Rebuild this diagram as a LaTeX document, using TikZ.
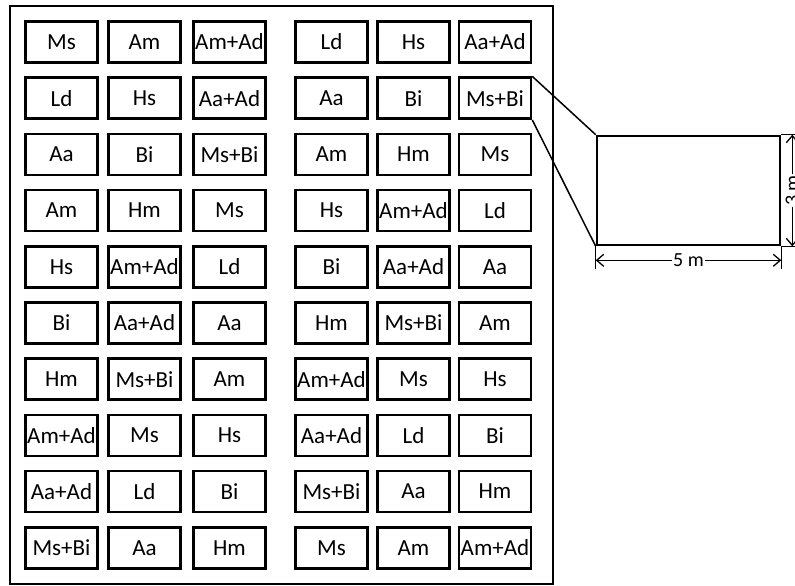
\documentclass[tikz,border=0pt]{standalone}
\usepackage{fontspec}
\setmainfont{Carlito}
\usetikzlibrary{arrows.meta}
\tikzset{
  cell/.style={draw, line width=2.6pt, minimum width=72pt, minimum height=41pt,
    inner sep=0pt, font=\fontsize{23}{26}\selectfont},
  dimline/.style={line width=1.3pt, {Straight Barb[length=7pt,width=12pt]}-{Straight Barb[length=7pt,width=12pt]}},
}
\begin{document}
\begin{tikzpicture}[x=1pt,y=-1pt]
    \useasboundingbox (0,0) rectangle (795,586);
    % field
    \draw[line width=2.2pt] (10,6) rectangle (553,584);
    % plots, row by row
    \foreach \row [count=\r] in {
        {Ms,Am,Am+Ad,Ld,Hs,Aa+Ad},
        {Ld,Hs,Aa+Ad,Aa,Bi,Ms+Bi},
        {Aa,Bi,Ms+Bi,Am,Hm,Ms},
        {Am,Hm,Ms,Hs,Am+Ad,Ld},
        {Hs,Am+Ad,Ld,Bi,Aa+Ad,Aa},
        {Bi,Aa+Ad,Aa,Hm,Ms+Bi,Am},
        {Hm,Ms+Bi,Am,Am+Ad,Ms,Hs},
        {Am+Ad,Ms,Hs,Aa+Ad,Ld,Bi},
        {Aa+Ad,Ld,Bi,Ms+Bi,Aa,Hm},
        {Ms+Bi,Aa,Hm,Ms,Am,Am+Ad}}
      \foreach \lab [count=\c] in \row {
        \pgfmathsetmacro{\xx}{{61.5,144.5,229.5,331.5,413.5,495}[\c-1]}
        \node[cell] (p-\r-\c) at (\xx,{42+(\r-1)*56.2}) {\lab};
      };
    % one plot enlarged
    \node[draw, line width=2.6pt, minimum width=183pt, minimum height=109pt] (detail) at (688.5,190.5) {};
    \draw[line width=1.5pt] (p-2-6.north east) -- (detail.north west);
    \draw[line width=1.5pt] (p-2-6.south east) -- (detail.south west);
    % dimensions
    \coordinate (w1) at ([yshift=-23pt]detail.south west);
    \coordinate (w2) at ([yshift=-23pt]detail.south east);
    \coordinate (h1) at ([xshift=20pt]detail.north east);
    \coordinate (h2) at ([xshift=20pt]detail.south east);
    \draw[line width=1pt] (detail.south west) -- (w1);
    \draw[line width=1pt] (detail.south east) -- (w2);
    \draw[line width=1pt] (detail.north east) -- (h1);
    \draw[line width=1pt] (detail.south east) -- (h2);
    \draw[dimline] ([yshift=-14pt]detail.south west) -- ([yshift=-14pt]detail.south east)
        node[midway, fill=white, inner sep=1pt, font=\fontsize{20}{22}\selectfont] {5 m};
    \draw[dimline] ([xshift=11pt]detail.north east) -- ([xshift=11pt]detail.south east)
        node[midway, fill=white, inner sep=1pt, rotate=90, font=\fontsize{20}{22}\selectfont] {3 m};
\end{tikzpicture}
\end{document}
